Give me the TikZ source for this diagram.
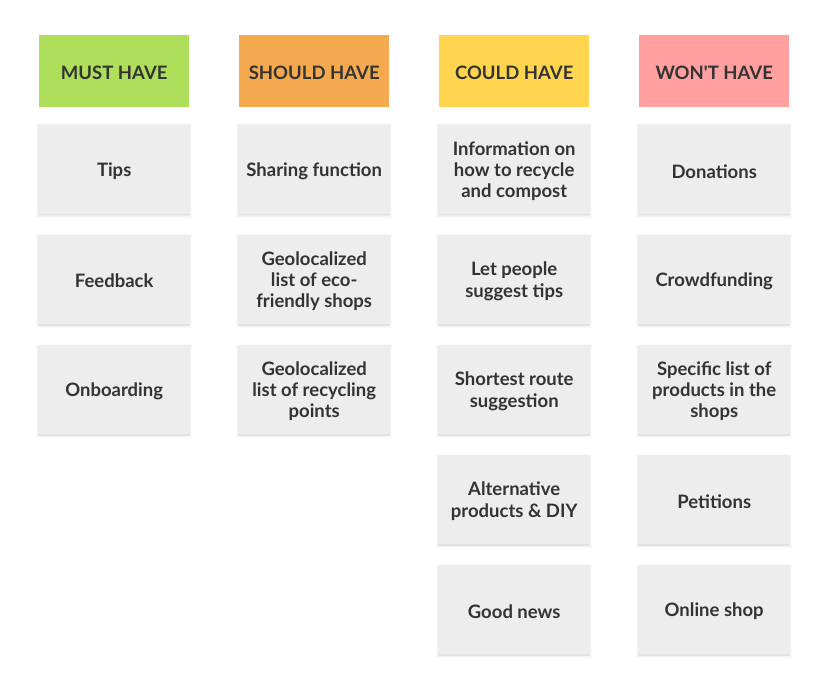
\documentclass[tikz,border=0pt]{standalone}
\usepackage{fontspec}
\setmainfont{Lato}[Ligatures=TeXOff]
\definecolor{txt}{HTML}{333333}
\definecolor{cgreen}{HTML}{ADDF5A}
\definecolor{corange}{HTML}{F5A94F}
\definecolor{cyellow}{HTML}{FFD54F}
\definecolor{cpink}{HTML}{FF9F9F}
\definecolor{cgray}{HTML}{EDEDED}
\newcommand{\mycard}[4]{%
  \foreach \s/\o in {3.5/0.018,2.5/0.022,1.5/0.03,0.7/0.04}{%
    \fill[black,opacity=\o] ($(#2)+(-\s+0.3,-\s+2)$) rectangle ($(#2)+(150+\s-0.3,89+\s+0.8)$);}
  \node[card] (#1) at (#2) {};
  \node[cardtext] (#1t) at ([yshift=-1.5pt]#1.center) {#4};
}
\usetikzlibrary{calc}
\begin{document}
\begin{tikzpicture}[x=1pt,y=-1pt,
  head/.style={minimum width=150pt,minimum height=72pt,inner sep=0pt,anchor=north west,
    font=\fontsize{18.5}{21.3}\selectfont\bfseries,text=txt,text height=16pt,text depth=0pt},
  card/.style={fill=cgray,minimum width=150pt,minimum height=89pt,inner sep=0pt,anchor=north west},
  cardtext/.style={inner sep=0pt,font=\fontsize{18.5}{21.3}\selectfont\bfseries,text=txt,align=center},
]
\fill[white] (0,0) rectangle (828,690);
\useasboundingbox (0,0) rectangle (828,690);
\node[head,fill=cgreen] (h1) at (39,35) {MUST HAVE};
\node[head,fill=corange] (h2) at (239,35) {SHOULD HAVE};
\node[head,fill=cyellow] (h3) at (439,35) {COULD HAVE};
\node[head,fill=cpink] (h4) at (639,35) {WON'T HAVE};

\mycard{m1}{39,125}{}{Tips}
\mycard{m2}{39,235}{}{Feedback}
\mycard{m3}{39,345}{}{Onboarding}

\mycard{s1}{239,125}{}{Sharing function}
\mycard{s2}{239,235}{}{Geolocalized\\list of eco-\\friendly shops}
\mycard{s3}{239,345}{}{Geolocalized\\list of recycling\\points}

\mycard{c1}{439,125}{}{Information on\\how to recycle\\and compost}
\mycard{c2}{439,235}{}{Let people\\suggest tips}
\mycard{c3}{439,345}{}{Shortest route\\suggestion}
\mycard{c4}{439,455}{}{Alternative\\products \& DIY}
\mycard{c5}{439,565}{}{Good news}

\mycard{w1}{639,125}{}{Donations}
\mycard{w2}{639,235}{}{Crowdfunding}
\mycard{w3}{639,345}{}{Specific list of\\products in the\\shops}
\mycard{w4}{639,455}{}{Petitions}
\mycard{w5}{639,565}{}{Online shop}
\end{tikzpicture}
\end{document}
